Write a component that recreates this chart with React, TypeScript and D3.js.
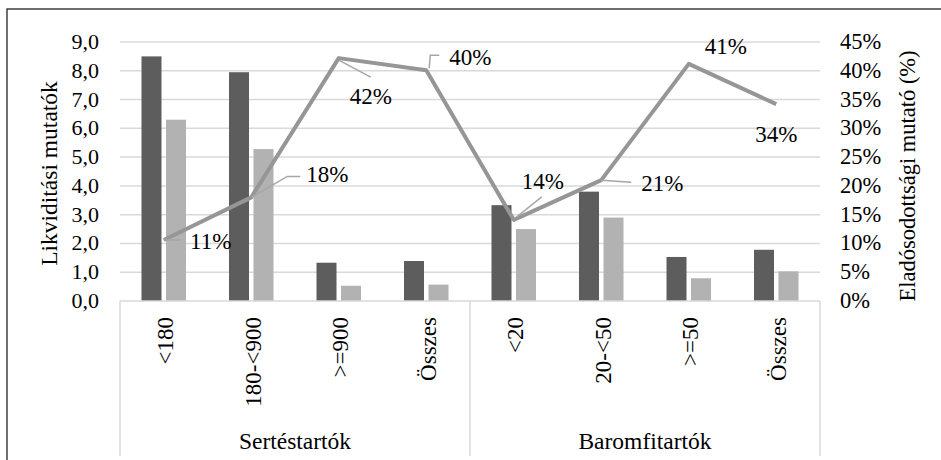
import React from "react";
import { scaleBand, scaleLinear, line } from "d3";

// data
const categories = ["<180", "180-<900", ">=900", "Összes", "<20", "20-<50", ">=50", "Összes"];
const groups = ["Sertéstartók", "Baromfitartók"];
const groupSize = 4;
const darkBars = [8.5, 7.95, 1.33, 1.39, 3.33, 3.8, 1.53, 1.78];
const lightBars = [6.3, 5.28, 0.53, 0.57, 2.5, 2.9, 0.79, 1.03];
const debtRatio = [0.106, 0.18, 0.422, 0.401, 0.141, 0.21, 0.412, 0.342];
const debtLabels = ["11%", "18%", "42%", "40%", "14%", "21%", "41%", "34%"];
const leftTicks = [0, 1, 2, 3, 4, 5, 6, 7, 8, 9];
const rightTicks = [0, 0.05, 0.1, 0.15, 0.2, 0.25, 0.3, 0.35, 0.4, 0.45];

// label layout (offsets from the point, plus leader line bends)
const labelPos: { dx: number; dy: number; leader: [number, number][] }[] = [
  { dx: 47, dy: 2, leader: [[0, 0], [17, 0]] },
  { dx: 76, dy: -22, leader: [[0, 0], [36, -21], [49, -21]] },
  { dx: 32, dy: 39, leader: [[0, 2], [32, 19]] },
  { dx: 44, dy: -12, leader: [[3, -2], [4, -15], [13, -15]] },
  { dx: 29, dy: -38, leader: [[3, -3], [28, -23]] },
  { dx: 61, dy: 4, leader: [[0, 0], [30, 2]] },
  { dx: 37, dy: -17, leader: [] },
  { dx: 0, dy: 31, leader: [] },
];

const font = "Liberation Serif";

export default function App() {
  const W = 941;
  const H = 460;
  const left = 120;
  const right = 820;
  const top = 42;
  const bottom = 301;

  const x = scaleBand<number>()
    .domain(categories.map((_, i) => i))
    .range([left, right]);
  const yL = scaleLinear().domain([0, 9]).range([bottom, top]);
  const yR = scaleLinear().domain([0, 0.45]).range([bottom, top]);

  const barW = 20;
  const gap = 4.5;
  const cx = (i: number) => (x(i) as number) + x.bandwidth() / 2;

  const path = line<number>()
    .x((_, i) => cx(i))
    .y((d) => yR(d));

  const groupW = x.bandwidth() * groupSize;

  return (
    <>
      <style>{`body{margin:0}`}</style>
      <svg width={W} height={H} style={{ display: "block" }} fontFamily={font}>
        <rect width={W} height={H} fill="#fff" />
        {/* border */}
        <path d={`M7,${H} L7,9 L${W},9`} fill="none" stroke="#404040" strokeWidth={1.5} />

        {/* gridlines */}
        {leftTicks.slice(1).map((t) => (
          <line key={t} x1={left} x2={right} y1={yL(t)} y2={yL(t)} stroke="#d9d9d9" strokeWidth={1.5} />
        ))}

        {/* bars */}
        {darkBars.map((v, i) => (
          <rect key={"d" + i} x={cx(i) - gap / 2 - barW} y={yL(v)} width={barW} height={bottom - yL(v)} fill="#5d5d5d" />
        ))}
        {lightBars.map((v, i) => (
          <rect key={"l" + i} x={cx(i) + gap / 2} y={yL(v)} width={barW} height={bottom - yL(v)} fill="#b2b2b2" />
        ))}

        {/* category axis */}
        <line x1={left} x2={right} y1={bottom} y2={bottom} stroke="#d9d9d9" strokeWidth={1.5} />
        {[0, 1, 2].map((g) => (
          <line key={g} x1={left + g * groupW} x2={left + g * groupW} y1={bottom} y2={456} stroke="#d9d9d9" strokeWidth={1.5} />
        ))}
        {categories.map((c, i) => (
          <text
            key={"c" + i}
            transform={`translate(${cx(i) + 2},317) rotate(-90)`}
            textAnchor="end"
            dominantBaseline="central"
            fontSize={23}
            fill="#000"
          >
            {c}
          </text>
        ))}
        {groups.map((g, gi) => (
          <text key={g} x={left + gi * groupW + groupW / 2} y={449} textAnchor="middle" fontSize={23.5} fill="#000">
            {g}
          </text>
        ))}

        {/* left axis */}
        {leftTicks.map((t) => (
          <text key={"lt" + t} x={99} y={yL(t) + 7} textAnchor="end" fontSize={22} fill="#000">
            {t.toFixed(1).replace(".", ",")}
          </text>
        ))}
        <text transform={`translate(57,${(top + bottom) / 2 + 2}) rotate(-90)`} textAnchor="middle" fontSize={23.5} fill="#000">
          Likviditási mutatók
        </text>

        {/* right axis */}
        {rightTicks.map((t) => (
          <text key={"rt" + t} x={840} y={yR(t) + 7} textAnchor="start" fontSize={22.5} fill="#000">
            {Math.round(t * 100) + "%"}
          </text>
        ))}
        <text transform={`translate(915,176) rotate(-90)`} textAnchor="middle" fontSize={22.5} fill="#000">
          Eladósodottsági mutató (%)
        </text>

        {/* line series */}
        <path d={path(debtRatio) || ""} fill="none" stroke="#969696" strokeWidth={4} strokeLinejoin="round" />

        {/* leaders + labels */}
        {debtRatio.map((v, i) => {
          const px = cx(i);
          const py = yR(v);
          const lp = labelPos[i];
          return (
            <g key={"lab" + i}>
              {lp.leader.length > 0 && (
                <polyline
                  points={lp.leader.map(([a, b]) => `${px + a},${py + b}`).join(" ")}
                  fill="none"
                  stroke="#a6a6a6"
                  strokeWidth={1.5}
                />
              )}
              <text x={px + lp.dx} y={py + lp.dy + 7} textAnchor="middle" fontSize={23} fill="#000">
                {debtLabels[i]}
              </text>
            </g>
          );
        })}
      </svg>
    </>
  );
}
